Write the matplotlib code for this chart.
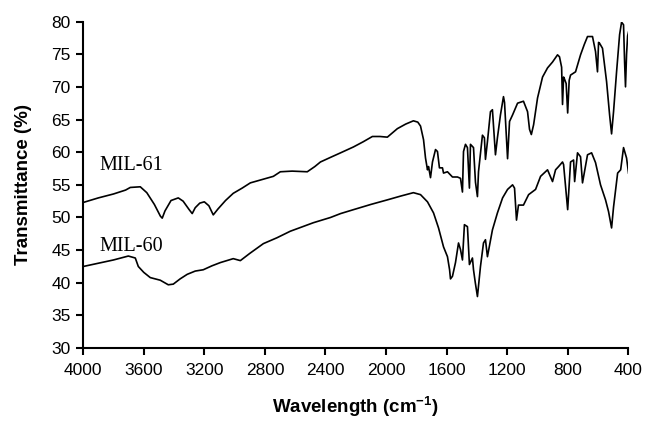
import matplotlib
matplotlib.use('Agg')
import matplotlib.pyplot as plt

plt.rcParams.update({
    'font.family': 'sans-serif',
    'font.sans-serif': ['Liberation Sans', 'DejaVu Sans'],
    'mathtext.fontset': 'custom',
    'mathtext.rm': 'Liberation Sans:bold',
    'mathtext.bf': 'Liberation Sans:bold',
})

# IR spectra (wavenumber in cm-1, transmittance in %)
wn_61 = [4000, 3900, 3800, 3720, 3689, 3623, 3580, 3530, 3490, 3478, 3460, 3420,
         3372, 3340, 3300, 3280, 3260, 3230, 3200, 3170, 3141, 3110, 3060, 3009,
         2950, 2896, 2820, 2744, 2698, 2620, 2520, 2470, 2433, 2367, 2300, 2215,
         2150, 2090, 2040, 1991, 1925, 1870, 1819, 1790, 1772, 1752, 1739, 1726,
         1719, 1706, 1693, 1673, 1660, 1647, 1627, 1620, 1594, 1561, 1528, 1508,
         1495, 1488, 1475, 1462, 1449, 1442, 1422, 1409, 1396, 1389, 1363, 1350,
         1343, 1330, 1310, 1297, 1277, 1264, 1244, 1224, 1217, 1197, 1184, 1164,
         1131, 1092, 1065, 1052, 1040, 1025, 999, 966, 933, 900, 867, 854, 840,
         834, 827, 821, 810, 800, 790, 781, 748, 715, 690, 669, 636, 616, 603,
         596, 590, 570, 543, 523, 510, 497, 477, 457, 444, 431, 424, 418, 411,
         404, 398]
t_61 = [52.3, 53.0, 53.6, 54.2, 54.6, 54.7, 53.8, 52.0, 50.2, 49.9, 51.0, 52.6,
        53.0, 52.5, 51.2, 50.6, 51.5, 52.2, 52.4, 51.8, 50.4, 51.3, 52.6, 53.7,
        54.5, 55.3, 55.8, 56.3, 57.0, 57.1, 57.0, 57.8, 58.5, 59.2, 59.9, 60.8,
        61.6, 62.4, 62.4, 62.3, 63.6, 64.3, 64.8, 64.6, 64.0, 61.9, 59.1, 57.3,
        57.8, 56.1, 58.5, 60.4, 60.1, 57.6, 57.6, 56.8, 57.0, 56.2, 56.2, 56.0,
        53.9, 60.1, 61.2, 60.7, 54.5, 61.2, 60.7, 55.4, 53.2, 57.0, 62.6, 62.2,
        58.9, 61.6, 66.2, 66.5, 59.6, 62.2, 65.7, 68.5, 67.6, 59.0, 64.7, 65.7,
        67.5, 67.8, 66.2, 63.5, 62.7, 64.2, 68.3, 71.5, 72.9, 73.8, 74.9, 74.6,
        73.0, 67.3, 71.5, 71.2, 70.5, 66.0, 71.0, 71.8, 72.3, 74.9, 76.5, 77.7,
        77.7, 75.4, 72.3, 76.8, 76.7, 75.9, 70.8, 65.7, 62.8, 66.2, 72.3, 78.0,
        79.9, 79.5, 73.8, 70.0, 75.0, 77.8, 78.4]

wn_60 = [4000, 3900, 3800, 3702, 3656, 3636, 3600, 3557, 3491, 3438, 3405, 3360,
         3313, 3260, 3207, 3150, 3094, 3009, 2962, 2900, 2810, 2720, 2632, 2550,
         2480, 2367, 2300, 2215, 2100, 1991, 1900, 1819, 1772, 1726, 1686, 1653,
         1620, 1594, 1580, 1574, 1561, 1541, 1521, 1508, 1495, 1482, 1462, 1449,
         1429, 1422, 1410, 1396, 1376, 1356, 1343, 1330, 1297, 1264, 1230, 1197,
         1164, 1151, 1138, 1125, 1092, 1058, 1012, 979, 933, 900, 880, 860, 834,
         827, 800, 781, 761, 754, 735, 715, 702, 669, 642, 616, 583, 550, 530,
         510, 497, 470, 450, 431, 411, 398]
t_60 = [42.5, 43.0, 43.5, 44.1, 43.8, 42.5, 41.6, 40.8, 40.4, 39.7, 39.8, 40.6,
        41.3, 41.8, 42.0, 42.6, 43.1, 43.7, 43.4, 44.5, 46.0, 46.9, 47.9, 48.6,
        49.2, 50.0, 50.6, 51.2, 52.0, 52.7, 53.3, 53.8, 53.5, 52.4, 50.7, 48.4,
        45.5, 44.0, 42.0, 40.6, 41.0, 43.1, 46.1, 45.1, 43.5, 48.9, 48.6, 42.8,
        43.8, 42.0, 40.0, 37.9, 42.5, 46.1, 46.6, 44.0, 48.1, 50.7, 53.0, 54.3,
        55.0, 54.5, 49.6, 51.9, 51.9, 53.5, 54.3, 56.3, 57.3, 55.5, 57.3, 57.8,
        58.5, 58.1, 51.2, 58.5, 58.8, 55.5, 59.9, 59.3, 55.3, 59.6, 59.9, 58.4,
        55.0, 52.7, 50.9, 48.4, 51.6, 56.8, 57.3, 60.7, 59.1, 56.8]

x_ticks = [4000, 3600, 3200, 2800, 2400, 2000, 1600, 1200, 800, 400]
y_ticks = [30, 35, 40, 45, 50, 55, 60, 65, 70, 75, 80]

fig = plt.figure(figsize=(6.45, 4.22), dpi=100)
ax = fig.add_axes([0.129, 0.175, 0.845, 0.774])

ax.plot(wn_61, t_61, color='black', lw=1.2)
ax.plot(wn_60, t_60, color='black', lw=1.2)

ax.text(3894, 57.3, 'MIL-61', family='Liberation Serif', fontsize=14.5)
ax.text(3894, 44.9, 'MIL-60', family='Liberation Serif', fontsize=14.5)

ax.set_xlim(4000, 400)
ax.set_ylim(30, 80)
ax.set_xticks(x_ticks)
ax.set_yticks(y_ticks)

for side in ['top', 'right']:
    ax.spines[side].set_visible(False)
for side in ['left', 'bottom']:
    ax.spines[side].set_linewidth(1.5)

ax.tick_params(axis='both', direction='out', length=5, width=1.5, labelsize=12.5)
ax.tick_params(axis='x', pad=6)
ax.tick_params(axis='y', pad=4)

ax.set_xlabel(r'Wavelength (cm$^{-1}$)', fontsize=13.5, fontweight='bold', labelpad=12)
ax.set_ylabel('Transmittance (%)', fontsize=13.5, fontweight='bold', labelpad=14)

fig.savefig('out.png', dpi=100)
